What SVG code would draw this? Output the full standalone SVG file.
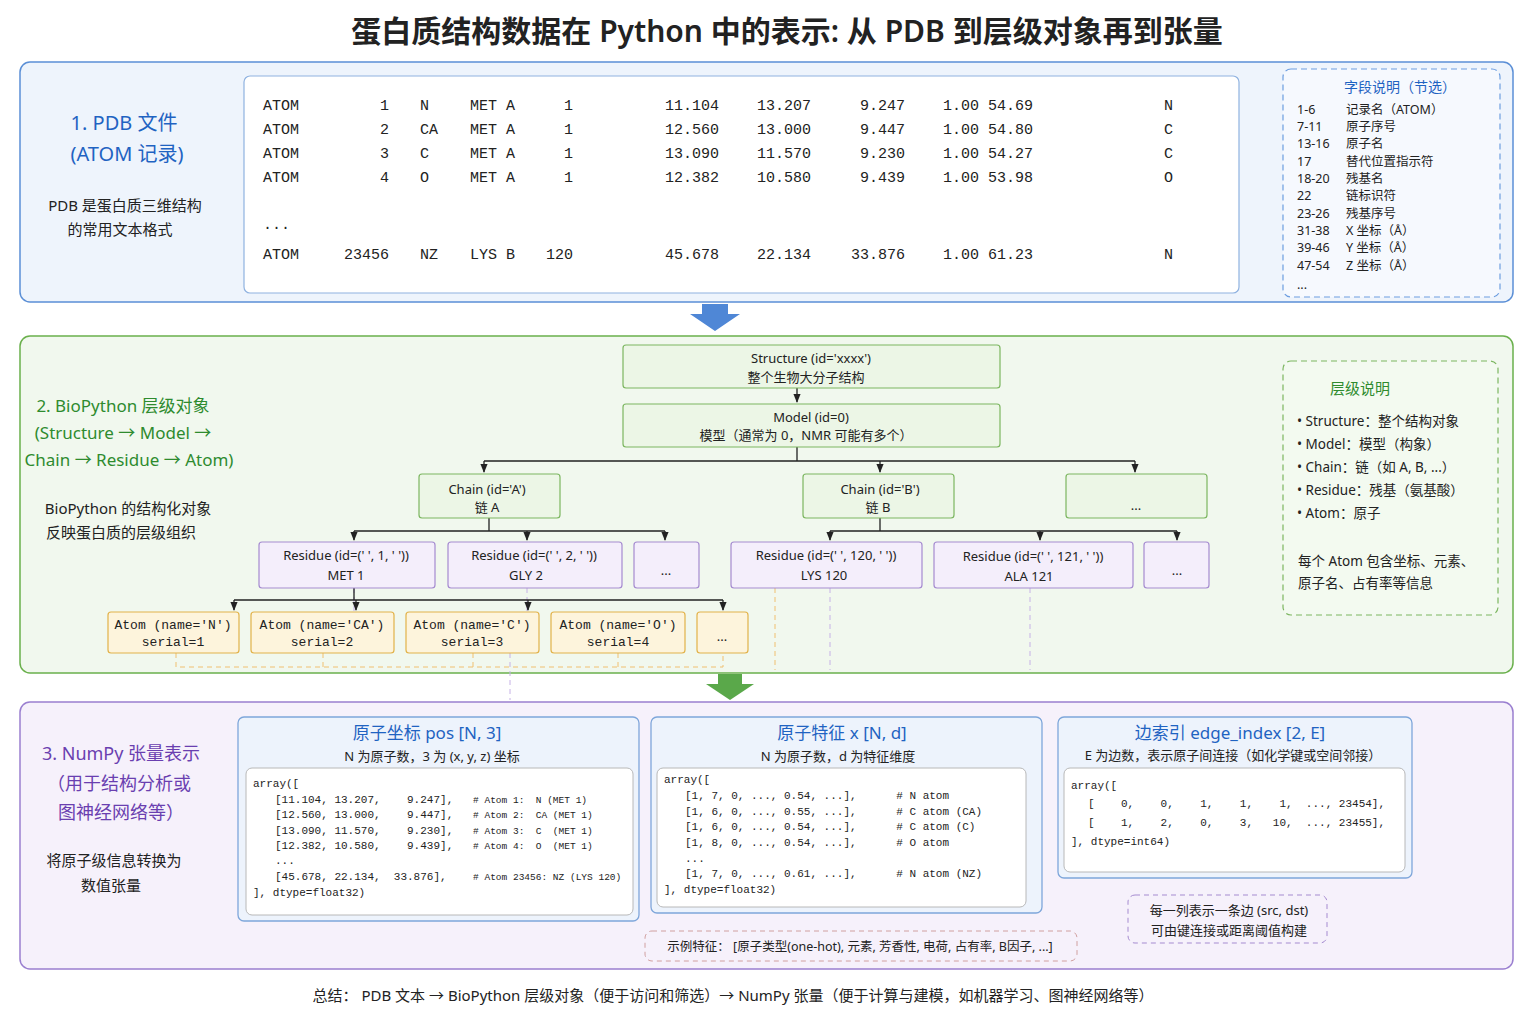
<svg xmlns="http://www.w3.org/2000/svg" width="1536" height="1024" viewBox="0 0 1536 1024">
<defs>
<marker id="ah" viewBox="0 0 10 10" refX="9" refY="5" markerWidth="7" markerHeight="7" orient="auto"><path d="M0,1 L10,5 L0,9 z" fill="#222"/></marker>
<style>
text{font-family:"Noto Sans","Noto Sans CJK SC",sans-serif;fill:#222}
text.m,.m text{font-family:"Liberation Mono","DejaVu Sans Mono",monospace}
.pdb{font-size:15px}
.c{text-anchor:middle}
.e{text-anchor:end}
.node text{font-size:13px;text-anchor:middle}
.gn{fill:#ecf6e6;stroke:#7cb660;stroke-width:1.2}
.rn{fill:#f4eefb;stroke:#a58bd0;stroke-width:1.2}
.an{fill:#fdf4dc;stroke:#e2b24a;stroke-width:1.2}
.con{stroke:#222;stroke-width:1.3;fill:none}
.dy{stroke:#f0c070;stroke-width:1;stroke-dasharray:5 4;fill:none}
.dp{stroke:#c6b2e6;stroke-width:1;stroke-dasharray:5 4;fill:none}
.code{font-size:11px}
.code text{white-space:pre}
</style>
</defs>
<rect width="1536" height="1024" fill="#fff"/>
<text x="787" y="42" class="c" font-size="30" font-weight="600">蛋白质结构数据在 Python 中的表示: 从 PDB 到层级对象再到张量</text>

<!-- Section 1 -->
<g id="sec1">
<rect x="20" y="62" width="1493" height="240" rx="10" fill="#eef4fc" stroke="#5b8fd6" stroke-width="1.5"/>
<text x="124" y="130" class="c" font-size="20" style="fill:#1f63c2">1.  PDB 文件</text>
<text x="127" y="161" class="c" font-size="20" style="fill:#1f63c2">(ATOM 记录)</text>
<text x="125" y="211" class="c" font-size="15">PDB 是蛋白质三维结构</text>
<text x="120" y="235" class="c" font-size="15">的常用文本格式</text>
<rect x="244" y="76" width="995" height="217" rx="6" fill="#fff" stroke="#8fb2e0" stroke-width="1.2"/>
<g class="m pdb">
<text x="263" y="110">ATOM</text><text x="263" y="134">ATOM</text><text x="263" y="158">ATOM</text><text x="263" y="182">ATOM</text>
<text x="263" y="229">...</text><text x="263" y="259">ATOM</text>
<text x="389" y="110" class="e">1</text><text x="389" y="134" class="e">2</text><text x="389" y="158" class="e">3</text><text x="389" y="182" class="e">4</text><text x="389" y="259" class="e">23456</text>
<text x="420" y="110">N</text><text x="420" y="134">CA</text><text x="420" y="158">C</text><text x="420" y="182">O</text><text x="420" y="259">NZ</text>
<text x="470" y="110">MET A</text><text x="470" y="134">MET A</text><text x="470" y="158">MET A</text><text x="470" y="182">MET A</text><text x="470" y="259">LYS B</text>
<text x="573" y="110" class="e">1</text><text x="573" y="134" class="e">1</text><text x="573" y="158" class="e">1</text><text x="573" y="182" class="e">1</text><text x="573" y="259" class="e">120</text>
<text x="719" y="110" class="e">11.104</text><text x="719" y="134" class="e">12.560</text><text x="719" y="158" class="e">13.090</text><text x="719" y="182" class="e">12.382</text><text x="719" y="259" class="e">45.678</text>
<text x="811" y="110" class="e">13.207</text><text x="811" y="134" class="e">13.000</text><text x="811" y="158" class="e">11.570</text><text x="811" y="182" class="e">10.580</text><text x="811" y="259" class="e">22.134</text>
<text x="905" y="110" class="e">9.247</text><text x="905" y="134" class="e">9.447</text><text x="905" y="158" class="e">9.230</text><text x="905" y="182" class="e">9.439</text><text x="905" y="259" class="e">33.876</text>
<text x="943" y="110">1.00 54.69</text><text x="943" y="134">1.00 54.80</text><text x="943" y="158">1.00 54.27</text><text x="943" y="182">1.00 53.98</text><text x="943" y="259">1.00 61.23</text>
<text x="1164" y="110">N</text><text x="1164" y="134">C</text><text x="1164" y="158">C</text><text x="1164" y="182">O</text><text x="1164" y="259">N</text>
</g>
<rect x="1283" y="69" width="217" height="228" rx="8" fill="#f6f9fe" stroke="#6d9ee0" stroke-width="1.2" stroke-dasharray="6 4"/>
<text x="1400" y="92" class="c" font-size="14" style="fill:#1f63c2">字段说明（节选）</text>
<g font-size="12.5">
<text x="1297" y="114">1-6</text><text x="1346" y="114">记录名（ATOM）</text>
<text x="1297" y="131">7-11</text><text x="1346" y="131">原子序号</text>
<text x="1297" y="148">13-16</text><text x="1346" y="148">原子名</text>
<text x="1297" y="166">17</text><text x="1346" y="166">替代位置指示符</text>
<text x="1297" y="183">18-20</text><text x="1346" y="183">残基名</text>
<text x="1297" y="200">22</text><text x="1346" y="200">链标识符</text>
<text x="1297" y="218">23-26</text><text x="1346" y="218">残基序号</text>
<text x="1297" y="235">31-38</text><text x="1346" y="235">X 坐标（Å）</text>
<text x="1297" y="252">39-46</text><text x="1346" y="252">Y 坐标（Å）</text>
<text x="1297" y="270">47-54</text><text x="1346" y="270">Z 坐标（Å）</text>
<text x="1297" y="289">...</text>
</g>
</g>
<polygon points="702,304 728,304 728,314 740,314 715,331 690,314 702,314" fill="#4f87d6"/>

<!-- Section 2 -->
<g id="sec2">
<rect x="20" y="336" width="1493" height="337" rx="10" fill="#f1f8ee" stroke="#6ab04c" stroke-width="1.5"/>
<g font-size="17" class="c">
<text x="123" y="412" style="fill:#2e8b2e">2. BioPython 层级对象</text>
<text x="123" y="439" style="fill:#2e8b2e">(Structure → Model →</text>
<text x="129" y="466" style="fill:#2e8b2e">Chain → Residue → Atom)</text>
</g>
<text x="128" y="514" class="c" font-size="15">BioPython 的结构化对象</text>
<text x="121" y="538" class="c" font-size="15">反映蛋白质的层级组织</text>
<rect x="1283" y="361" width="215" height="254" rx="8" fill="#f3faf0" stroke="#7cb660" stroke-width="1.2" stroke-dasharray="6 4"/>
<text x="1360" y="394" class="c" font-size="15" style="fill:#2e8b2e">层级说明</text>
<g font-size="13.5">
<text x="1297" y="426">•  Structure：整个结构对象</text>
<text x="1297" y="449">•  Model：模型（构象）</text>
<text x="1297" y="472">•  Chain：链（如 A, B, ...）</text>
<text x="1297" y="495">•  Residue：残基（氨基酸）</text>
<text x="1297" y="518">•  Atom：原子</text>
<text x="1298" y="566">每个 Atom 包含坐标、元素、</text>
<text x="1298" y="588">原子名、占有率等信息</text>
</g>
</g>

<g id="connectors">
<path class="dy" d="M176,653 V667 H723 V653 M323,653 V667 M473,653 V667 M618,653 V667 M775,588 V670"/>
<path class="dp" d="M354,588 V612 M527,588 V612 M510,653 V700 M830,588 V670 M1030,588 V670"/>
<path class="con" d="M797,388 V402" marker-end="url(#ah)"/>
<path class="con" d="M797,447 V461 M484,461 H1135"/>
<path class="con" d="M484,461 V472" marker-end="url(#ah)"/>
<path class="con" d="M880,461 V472" marker-end="url(#ah)"/>
<path class="con" d="M1135,461 V472" marker-end="url(#ah)"/>
<path class="con" d="M489,518 V531 M354,531 H665"/>
<path class="con" d="M354,531 V540" marker-end="url(#ah)"/>
<path class="con" d="M527,531 V540" marker-end="url(#ah)"/>
<path class="con" d="M665,531 V540" marker-end="url(#ah)"/>
<path class="con" d="M880,518 V531 M830,531 H1177"/>
<path class="con" d="M830,531 V540" marker-end="url(#ah)"/>
<path class="con" d="M1040,531 V540" marker-end="url(#ah)"/>
<path class="con" d="M1177,531 V540" marker-end="url(#ah)"/>
<path class="con" d="M354,588 V600 M234,600 H723"/>
<path class="con" d="M234,600 V610" marker-end="url(#ah)"/>
<path class="con" d="M356,600 V610" marker-end="url(#ah)"/>
<path class="con" d="M528,600 V610" marker-end="url(#ah)"/>
<path class="con" d="M723,600 V610" marker-end="url(#ah)"/>
</g>

<g id="structure" class="node"><rect class="gn" x="623" y="345" width="377" height="43" rx="3"/><text x="811" y="363">Structure (id='xxxx')</text><text x="806" y="382">整个生物大分子结构</text></g>
<g id="model" class="node"><rect class="gn" x="623" y="404" width="377" height="43" rx="3"/><text x="811" y="422">Model (id=0)</text><text x="806" y="440">模型（通常为 0，NMR 可能有多个）</text></g>
<g id="chainA" class="node"><rect class="gn" x="419" y="474" width="141" height="44" rx="3"/><text x="487" y="494">Chain (id='A')</text><text x="487" y="512">链 A</text></g>
<g id="chainB" class="node"><rect class="gn" x="803" y="474" width="151" height="44" rx="3"/><text x="880" y="494">Chain (id='B')</text><text x="878" y="512">链 B</text></g>
<g id="chainMore" class="node"><rect class="gn" x="1066" y="474" width="141" height="44" rx="3"/><text x="1136" y="510">...</text></g>
<g id="res1" class="node"><rect class="rn" x="259" y="542" width="176" height="46" rx="3"/><text x="346" y="560">Residue (id=(' ', 1, ' '))</text><text x="346" y="580">MET 1</text></g>
<g id="res2" class="node"><rect class="rn" x="448" y="542" width="174" height="46" rx="3"/><text x="534" y="560">Residue (id=(' ', 2, ' '))</text><text x="526" y="580">GLY 2</text></g>
<g id="resA" class="node"><rect class="rn" x="634" y="542" width="65" height="46" rx="3"/><text x="666" y="575">...</text></g>
<g id="res120" class="node"><rect class="rn" x="731" y="542" width="191" height="46" rx="3"/><text x="826" y="560">Residue (id=(' ', 120, ' '))</text><text x="824" y="580">LYS 120</text></g>
<g id="res121" class="node"><rect class="rn" x="934" y="542" width="199" height="46" rx="3"/><text x="1033" y="561">Residue (id=(' ', 121, ' '))</text><text x="1029" y="581">ALA 121</text></g>
<g id="resB" class="node"><rect class="rn" x="1144" y="542" width="65" height="46" rx="3"/><text x="1177" y="575">...</text></g>
<g id="atom1" class="node"><rect class="an" x="108" y="612" width="131" height="41" rx="3"/><text x="173" y="629" class="m">Atom (name='N')</text><text x="173" y="646" class="m">serial=1</text></g>
<g id="atom2" class="node"><rect class="an" x="251" y="612" width="143" height="41" rx="3"/><text x="322" y="629" class="m">Atom (name='CA')</text><text x="322" y="646" class="m">serial=2</text></g>
<g id="atom3" class="node"><rect class="an" x="406" y="612" width="133" height="41" rx="3"/><text x="472" y="629" class="m">Atom (name='C')</text><text x="472" y="646" class="m">serial=3</text></g>
<g id="atom4" class="node"><rect class="an" x="551" y="612" width="134" height="41" rx="3"/><text x="618" y="629" class="m">Atom (name='O')</text><text x="618" y="646" class="m">serial=4</text></g>
<g id="atomMore" class="node"><rect class="an" x="697" y="612" width="51" height="41" rx="3"/><text x="722" y="641">...</text></g>

<polygon points="718,674 742,674 742,684 754,684 730,700 706,684 718,684" fill="#5aa84a"/>

<!-- Section 3 -->
<g id="sec3">
<rect x="20" y="702" width="1493" height="267" rx="10" fill="#f6f1fb" stroke="#9a7fd0" stroke-width="1.5"/>
<g font-size="18" class="c">
<text x="121" y="760" style="fill:#6a3fb0">3. NumPy 张量表示</text>
<text x="119" y="790" style="fill:#6a3fb0">（用于结构分析或</text>
<text x="121" y="819" style="fill:#6a3fb0">图神经网络等）</text>
</g>
<text x="114" y="866" class="c" font-size="15">将原子级信息转换为</text>
<text x="111" y="891" class="c" font-size="15">数值张量</text>
</g>
<g id="pos">
<rect x="238" y="717" width="401" height="204" rx="6" fill="#edf3fc" stroke="#7ea6da" stroke-width="1.3"/>
<text x="427" y="739" class="c" font-size="17" style="fill:#1f63c2">原子坐标  pos   [N, 3]</text>
<text x="432" y="761" class="c" font-size="13">N 为原子数，3 为 (x, y, z) 坐标</text>
<rect x="246" y="768" width="387" height="147" rx="6" fill="#fff" stroke="#b8b8b8"/>
<g class="m code">
<text x="253" y="787">array([</text>
<text x="275" y="803">[11.104, 13.207,    9.247],   <tspan font-size="9.5"># Atom 1:  N (MET 1)</tspan></text>
<text x="275" y="818">[12.560, 13.000,    9.447],   <tspan font-size="9.5"># Atom 2:  CA (MET 1)</tspan></text>
<text x="275" y="834">[13.090, 11.570,    9.230],   <tspan font-size="9.5"># Atom 3:  C  (MET 1)</tspan></text>
<text x="275" y="849">[12.382, 10.580,    9.439],   <tspan font-size="9.5"># Atom 4:  O  (MET 1)</tspan></text>
<text x="275" y="864">...</text>
<text x="275" y="880">[45.678, 22.134,  33.876],    <tspan font-size="9.5"># Atom 23456: NZ (LYS 120)</tspan></text>
<text x="253" y="896">], dtype=float32)</text>
</g>
</g>
<g id="feat">
<rect x="651" y="717" width="391" height="196" rx="6" fill="#edf3fc" stroke="#7ea6da" stroke-width="1.3"/>
<text x="842" y="739" class="c" font-size="17" style="fill:#1f63c2">原子特征  x   [N, d]</text>
<text x="838" y="761" class="c" font-size="13">N 为原子数，d 为特征维度</text>
<rect x="657" y="768" width="369" height="139" rx="6" fill="#fff" stroke="#b8b8b8"/>
<g class="m code">
<text x="664" y="783">array([</text>
<text x="685" y="799">[1, 7, 0, ..., 0.54, ...],      # N atom</text>
<text x="685" y="815">[1, 6, 0, ..., 0.55, ...],      # C atom (CA)</text>
<text x="685" y="830">[1, 6, 0, ..., 0.54, ...],      # C atom (C)</text>
<text x="685" y="846">[1, 8, 0, ..., 0.54, ...],      # O atom</text>
<text x="685" y="862">...</text>
<text x="685" y="877">[1, 7, 0, ..., 0.61, ...],      # N atom (NZ)</text>
<text x="664" y="893">], dtype=float32)</text>
</g>
</g>
<g id="edge">
<rect x="1058" y="717" width="354" height="161" rx="6" fill="#edf3fc" stroke="#7ea6da" stroke-width="1.3"/>
<text x="1230" y="739" class="c" font-size="17" style="fill:#1f63c2">边索引 edge_index  [2, E]</text>
<text x="1233" y="760" class="c" font-size="13">E 为边数，表示原子间连接（如化学键或空间邻接）</text>
<rect x="1064" y="768" width="341" height="104" rx="6" fill="#fff" stroke="#b8b8b8"/>
<g class="m code">
<text x="1071" y="789">array([</text>
<text x="1088" y="807">[    0,    0,    1,    1,    1,  ..., 23454],</text>
<text x="1088" y="826">[    1,    2,    0,    3,   10,  ..., 23455],</text>
<text x="1071" y="845">], dtype=int64)</text>
</g>
</g>
<g id="edgeNote">
<rect x="1128" y="895" width="199" height="48" rx="7" fill="#f6f1fb" stroke="#a58bd0" stroke-dasharray="5 4"/>
<text x="1229" y="915" class="c" font-size="13">每一列表示一条边 (src, dst)</text>
<text x="1229" y="935" class="c" font-size="13">可由键连接或距离阈值构建</text>
</g>
<g id="featNote">
<rect x="645" y="931" width="432" height="30" rx="7" fill="#f6f1fb" stroke="#d0a0a0" stroke-dasharray="5 4"/>
<text x="860" y="951" class="c" font-size="12.5">示例特征：  [原子类型(one-hot), 元素, 芳香性, 电荷, 占有率, B因子, ...]</text>
</g>
<text x="733" y="1001" class="c" font-size="15">总结：  PDB 文本 → BioPython 层级对象（便于访问和筛选）→ NumPy 张量（便于计算与建模，如机器学习、图神经网络等）</text>
</svg>
